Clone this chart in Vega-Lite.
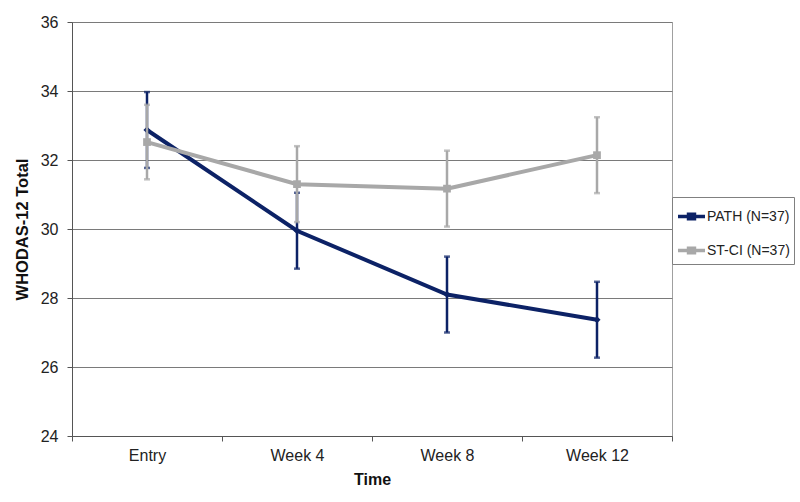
{
  "$schema": "https://vega.github.io/schema/vega-lite/v6.json",
  "width": 600,
  "height": 414,
  "autosize": {"type": "none"},
  "padding": {"left": 72, "top": 22, "right": 128, "bottom": 66},
  "background": "white",
  "config": {
    "font": "Liberation Sans",
    "view": {"stroke": "#a0a0a0", "strokeWidth": 1},
    "axis": {"labelFont": "Liberation Sans", "titleFont": "Liberation Sans", "labelColor": "#222", "titleColor": "#111"},
    "legend": {"labelFont": "Liberation Sans", "labelFontSize": 14, "symbolOpacity": 1}
  },
  "data": {
    "values": [
      {"time": "Entry", "series": "PATH (N=37)", "mean": 32.87, "lo": 31.77, "hi": 33.97},
      {"time": "Week 4", "series": "PATH (N=37)", "mean": 29.95, "lo": 28.85, "hi": 31.05},
      {"time": "Week 8", "series": "PATH (N=37)", "mean": 28.1, "lo": 27.0, "hi": 29.2},
      {"time": "Week 12", "series": "PATH (N=37)", "mean": 27.37, "lo": 26.27, "hi": 28.47},
      {"time": "Entry", "series": "ST-CI (N=37)", "mean": 32.52, "lo": 31.44, "hi": 33.6},
      {"time": "Week 4", "series": "ST-CI (N=37)", "mean": 31.3, "lo": 30.2, "hi": 32.4},
      {"time": "Week 8", "series": "ST-CI (N=37)", "mean": 31.17, "lo": 30.07, "hi": 32.27},
      {"time": "Week 12", "series": "ST-CI (N=37)", "mean": 32.14, "lo": 31.04, "hi": 33.24}
    ]
  },
  "encoding": {
    "x": {
      "field": "time", "type": "nominal",
      "sort": ["Entry", "Week 4", "Week 8", "Week 12"],
      "scale": {"type": "band", "paddingInner": 0, "paddingOuter": 0},
      "axis": {
        "title": "Time", "labelAngle": 0, "tickBand": "extent",
        "labelFontSize": 16, "titleFontSize": 16, "titleFontWeight": "bold",
        "labelPadding": 6, "titlePadding": 8, "tickSize": 5, "tickColor": "#555",
        "domainColor": "#555", "grid": false
      }
    },
    "color": {
      "field": "series", "type": "nominal",
      "scale": {"domain": ["PATH (N=37)", "ST-CI (N=37)"], "range": ["#0c2266", "#a8a8a8"]},
      "legend": {
        "title": null, "orient": "none", "legendX": 600, "legendY": 175,
        "fillColor": "white", "strokeColor": "#808080", "padding": 4,
        "symbolType": "M-1,0H1M-0.22,-0.16H0.22V0.16H-0.22Z",
        "symbolSize": 729, "symbolStrokeWidth": 3.5, "symbolOpacity": 1,
        "labelFontSize": 14, "labelColor": "#222", "labelOffset": 0,
        "rowPadding": 9, "labelLimit": 200
      }
    }
  },
  "layer": [
    {
      "transform": [{"filter": "datum.series == 'PATH (N=37)'"}],
      "layer": [
        {"mark": {"type": "rule", "strokeWidth": 2.5},
         "encoding": {"y": {"field": "lo", "type": "quantitative",
            "scale": {"domain": [24, 36]},
            "axis": {"title": "WHODAS-12 Total", "values": [24, 26, 28, 30, 32, 34, 36],
              "labelFontSize": 16, "titleFontSize": 16.5, "titleFontWeight": "bold",
              "tickSize": 5, "labelPadding": 9, "titlePadding": 10, "tickColor": "#555",
              "domainColor": "#555", "gridColor": "#7a7a7a", "gridWidth": 1}},
           "y2": {"field": "hi"}}},
        {"mark": {"type": "tick", "size": 6, "thickness": 2.5}, "encoding": {"y": {"field": "lo", "type": "quantitative"}}},
        {"mark": {"type": "tick", "size": 6, "thickness": 2.5}, "encoding": {"y": {"field": "hi", "type": "quantitative"}}},
        {"mark": {"type": "line", "strokeWidth": 4}, "encoding": {"y": {"field": "mean", "type": "quantitative"}}},
        {"mark": {"type": "point", "shape": "diamond", "filled": true, "size": 50, "opacity": 1}, "encoding": {"y": {"field": "mean", "type": "quantitative"}}}
      ]
    },
    {
      "transform": [{"filter": "datum.series == 'ST-CI (N=37)'"}],
      "layer": [
        {"mark": {"type": "rule", "strokeWidth": 2.5}, "encoding": {"y": {"field": "lo", "type": "quantitative"}, "y2": {"field": "hi"}}},
        {"mark": {"type": "tick", "size": 6, "thickness": 2.5}, "encoding": {"y": {"field": "lo", "type": "quantitative"}}},
        {"mark": {"type": "tick", "size": 6, "thickness": 2.5}, "encoding": {"y": {"field": "hi", "type": "quantitative"}}},
        {"mark": {"type": "line", "strokeWidth": 4}, "encoding": {"y": {"field": "mean", "type": "quantitative"}}},
        {"mark": {"type": "point", "shape": "square", "filled": true, "size": 60, "opacity": 1}, "encoding": {"y": {"field": "mean", "type": "quantitative"}}}
      ]
    }
  ]
}
